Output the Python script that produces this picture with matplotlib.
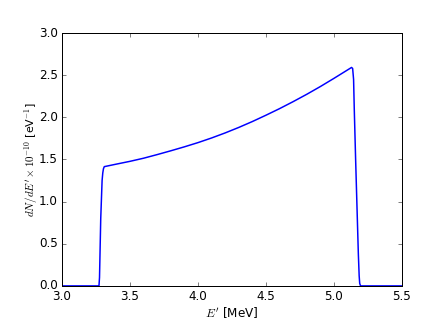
import matplotlib
matplotlib.use("Agg")
import matplotlib.pyplot as plt

plt.style.use("classic")

# spectrum
energy_mev = [3.00, 3.272, 3.276, 3.285, 3.295, 3.300, 3.305, 3.311,
              3.40, 3.50, 3.60, 3.70, 3.80, 3.90, 4.00, 4.10, 4.20,
              4.30, 4.40, 4.50, 4.60, 4.70, 4.80, 4.90, 5.00, 5.10,
              5.130, 5.138, 5.145, 5.150, 5.160, 5.170, 5.180, 5.186,
              5.190, 5.196, 5.50]
dnde = [0.0, 0.0, 0.1, 0.8, 1.25, 1.34, 1.39, 1.415,
        1.445, 1.478, 1.515, 1.558, 1.603, 1.650, 1.700, 1.755, 1.815,
        1.880, 1.950, 2.025, 2.103, 2.186, 2.273, 2.365, 2.462, 2.562,
        2.592, 2.58, 2.45, 2.10, 1.50, 0.94, 0.38, 0.12,
        0.03, 0.0, 0.0]

fig = plt.figure(figsize=(446 / 72, 334 / 72), dpi=72, facecolor="white")
ax = fig.add_subplot(111)
fig.subplots_adjust(left=0.139, right=0.901, top=0.901, bottom=0.144)

ax.plot(energy_mev, dnde, color="b", lw=1.5)

ax.set_xlim(3.0, 5.5)
ax.set_ylim(0.0, 3.0)
ax.set_xlabel(r"$E'$ [MeV]", labelpad=3)
ax.set_ylabel(r"$dN/dE' \times 10^{-10}$ [eV$^{-1}$]", fontsize=11, labelpad=-1)

fig.savefig("out.png", dpi=72, facecolor="white")
